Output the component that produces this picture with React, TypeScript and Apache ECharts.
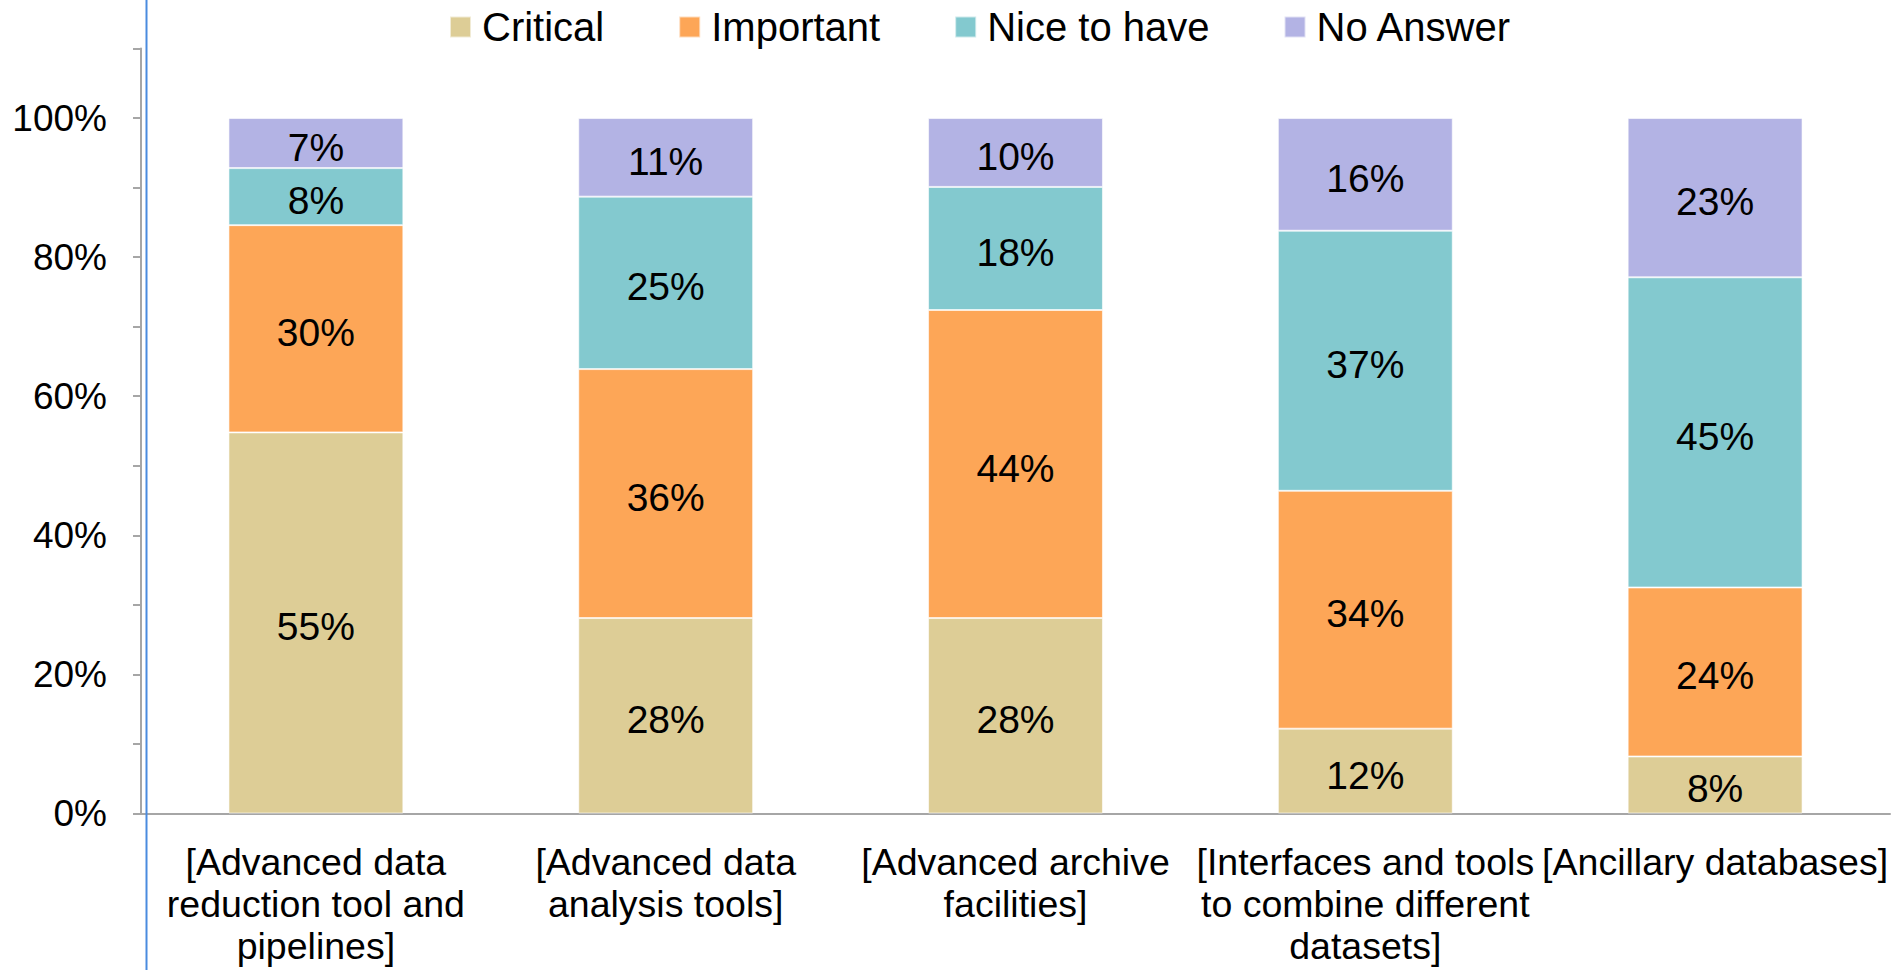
import React, { useEffect, useRef } from "react";
import * as echarts from "echarts";

const categories = [
  "[Advanced data\nreduction tool and\npipelines]",
  "[Advanced data\nanalysis tools]",
  "[Advanced archive\nfacilities]",
  "[Interfaces and tools\nto combine different\ndatasets]",
  "[Ancillary databases]",
];
const seriesNames = ["Critical", "Important", "Nice to have", "No Answer"];
const critical = [54.8, 28.1, 28.1, 12.2, 8.2];
const important = [29.8, 35.8, 44.3, 34.2, 24.3];
const niceToHave = [8.2, 24.8, 17.7, 37.4, 44.6];
const noAnswer = [7.2, 11.3, 9.9, 16.2, 22.9];
const colors = ["#DDCD96", "#FDA657", "#83C9CF", "#B3B3E4"];

const FONT = "'Liberation Sans', Arial, sans-serif";

export default function App() {
  const ref = useRef<HTMLDivElement>(null);
  useEffect(() => {
    if (!ref.current) return;
    const chart = echarts.init(ref.current, null, { renderer: "svg" });
    const data = [critical, important, niceToHave, noAnswer];
    chart.setOption({
      animation: false,
      backgroundColor: "#ffffff",
      textStyle: { fontFamily: FONT },
      legend: {
        data: seriesNames,
        left: 449,
        top: 7,
        padding: 0,
        itemWidth: 21,
        itemHeight: 21,
        itemGap: 74,
        icon: "rect",
        textStyle: { fontSize: 40, color: "#000", fontFamily: FONT, padding: [0, 0, 0, 6] },
      },
      grid: { left: 141, right: 11, top: 48.5, bottom: 156.5, containLabel: false },
      xAxis: {
        type: "category",
        data: categories,
        axisLine: { lineStyle: { color: "#A6A6A6", width: 2 } },
        axisTick: { show: false },
        axisLabel: {
          interval: 0,
          fontSize: 37.5,
          lineHeight: 42,
          color: "#000",
          margin: 27,
          fontFamily: FONT,
          align: "center",
        },
      },
      yAxis: {
        type: "value",
        min: 0,
        max: 110,
        interval: 10,
        splitLine: { show: false },
        axisLine: { show: true, lineStyle: { color: "#A6A6A6", width: 2 } },
        axisTick: { show: true, length: 8, lineStyle: { color: "#A6A6A6", width: 2 } },
        axisLabel: {
          fontSize: 37,
          color: "#000",
          margin: 34,
          padding: [9, 0, 0, 0],
          fontFamily: FONT,
          formatter: (v: number) => (v % 20 === 0 && v <= 100 ? v + "%" : ""),
        },
      },
      graphic: [
        {
          type: "line",
          shape: { x1: 146.5, y1: 0, x2: 146.5, y2: 970 },
          style: { stroke: "#4A8BDF", lineWidth: 2 },
          z: 100,
        },
      ],
      series: seriesNames.map((name, i) => ({
        name,
        type: "bar",
        stack: "total",
        barWidth: "50%",
        data: data[i],
        itemStyle: { color: colors[i], borderColor: "rgba(255,255,255,0.6)", borderWidth: 1 },
        label: {
          show: true,
          position: "inside",
          offset: [0, 4],
          fontSize: 39,
          color: "#000",
          fontFamily: FONT,
          formatter: (p: any) => Math.round(p.value) + "%",
        },
      })),
    });
    return () => chart.dispose();
  }, []);
  return (
    <div
      ref={ref}
      style={{ position: "fixed", left: 0, top: 0, width: 1901, height: 970 }}
    />
  );
}
